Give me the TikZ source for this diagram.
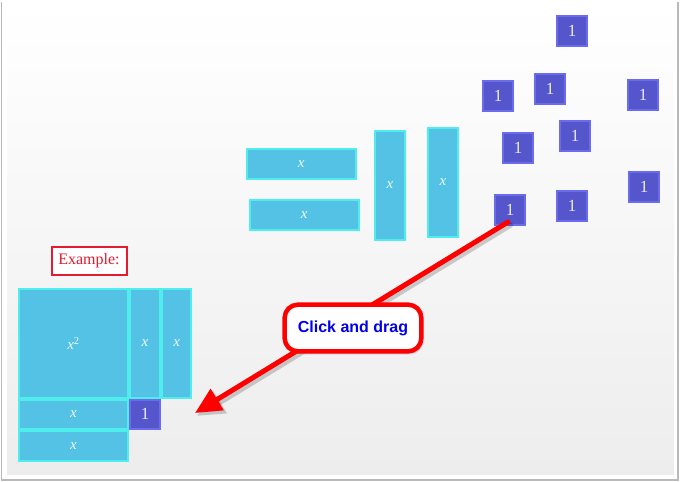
\documentclass[tikz,border=0pt]{standalone}
\usepackage{fontspec}
\setmainfont{Liberation Serif}
\setsansfont{Liberation Sans}
\usetikzlibrary{arrows.meta,shadows}
\definecolor{cyanfill}{HTML}{54C2E4}
\definecolor{cyanedge}{HTML}{4EEEEE}
\definecolor{purpfill}{HTML}{5555CC}
\definecolor{purpedge}{HTML}{6B6BEE}
\definecolor{exred}{HTML}{E41A30}
\definecolor{arrred}{HTML}{FF0000}
\definecolor{clickblue}{HTML}{0000EE}
\definecolor{bgbottom}{HTML}{EDEDED}
\tikzset{
  tile/.style={draw=cyanedge, fill=cyanfill, line width=2pt, inner sep=0pt,
    font=\fontsize{15}{15}\selectfont\itshape, text=white!92!cyanfill},
  xh/.style={tile, minimum width=109pt, minimum height=29.5pt},
  xv/.style={tile, minimum width=29.5pt, minimum height=108.7pt},
  xsq/.style={tile, minimum width=109pt, minimum height=108.7pt},
  unit/.style={draw=purpedge, fill=purpfill, line width=2pt, minimum size=29.6pt,
    inner sep=0pt, text=white!88!purpfill, font=\fontsize{17}{17}\selectfont},
  callout/.style={draw=arrred, line width=4.5pt, fill=white, rounded corners=13pt,
    minimum width=136.6pt, minimum height=46.6pt, inner sep=0pt,
    font=\fontsize{16}{16}\selectfont\sffamily\bfseries, text=clickblue,
    drop shadow={opacity=0.3, shadow xshift=2pt, shadow yshift=-3pt}},
  exbox/.style={draw=exred, line width=2pt, fill=white, minimum width=75pt,
    minimum height=28pt, inner sep=0pt, text=exred, font=\fontsize{16}{16}\selectfont},
  dragarrow/.style={draw=arrred, line width=5pt, line cap=round,
    -{Triangle[length=26pt,width=24pt]}},
  dragshadow/.style={draw=black, opacity=0.18, line width=6pt, line cap=round,
    -{Triangle[length=27pt,width=25pt]}}
}
\begin{document}
\begin{tikzpicture}[x=1pt,y=-1pt]
\useasboundingbox (0,0) rectangle (681,482);
% card and background
\fill[gray!55] (0.5,1.5) rectangle (678.5,481);
\fill[white] (2,0) rectangle (677,478.5);
\shade[top color=white, bottom color=bgbottom] (7,4) rectangle (674,474);

% loose x tiles
\node[xh] (h1) at (301.3,164) {x};
\node[xh] (h2) at (304.3,215) {x};
\node[xv] (v1) at (390,185.3) {x};
\node[xv] (v2) at (443,182.2) {x};

% loose unit tiles
\node[unit] (u1) at (572,31) {1};
\node[unit] (u2) at (498,96) {1};
\node[unit] (u3) at (550,89) {1};
\node[unit] (u4) at (643,95) {1};
\node[unit] (u5) at (518,148) {1};
\node[unit] (u6) at (575,136) {1};
\node[unit] (u7) at (644,187) {1};
\node[unit] (u8) at (510,210) {1};
\node[unit] (u9) at (572,206) {1};

% example
\node[exbox] (ex) at (89,261) {Example:};
\node[xsq] (sq) at (73.5,343.3) {x\textsuperscript{\upshape 2}};
\node[xv] (ev1) at (145,343.3) {x};
\node[xv] (ev2) at (176.7,343.3) {x};
\node[xh] (eh1) at (73.5,414.3) {x};
\node[unit] (eu) at (145,414.3) {1};
\node[xh] (eh2) at (73.5,446) {x};

% drag arrow
\coordinate (start) at (508,222);
\coordinate (tip) at (195,413);
\coordinate (starts) at (510,225);
\coordinate (tips) at (197,416);
\path[dragshadow] (starts) -- (tips);
\path[dragarrow] (start) -- (tip);

% callout
\node[callout] (cd) at (353,328) {Click and drag};
\end{tikzpicture}
\end{document}
